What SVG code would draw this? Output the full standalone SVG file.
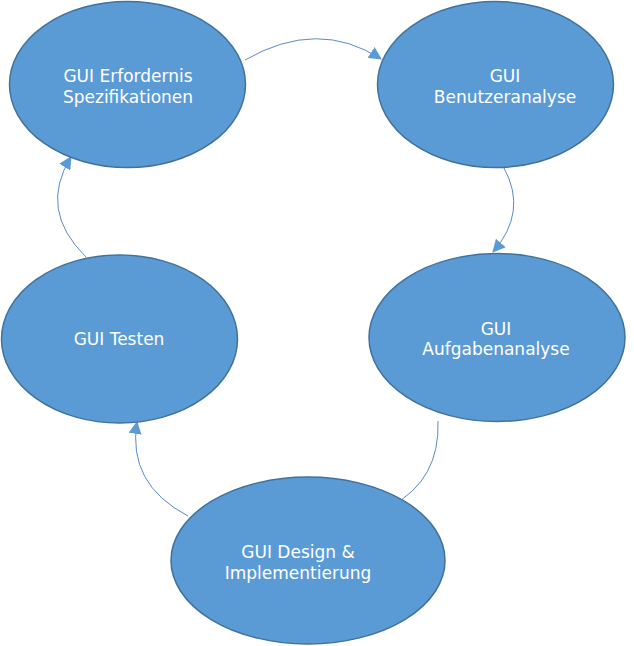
<svg xmlns="http://www.w3.org/2000/svg" width="634" height="646" viewBox="0 0 634 646">
<style>
.node ellipse{fill:#5B9BD5;stroke:#41719C;stroke-width:1.5}
.node text{fill:#FFFFFF;font-family:"DejaVu Sans",Verdana,sans-serif;font-size:17px;text-anchor:middle}
.conn path{fill:none;stroke:#5A8AC6;stroke-width:1}
</style>
<defs>
<marker id="arr" markerUnits="userSpaceOnUse" markerWidth="13" markerHeight="13" viewBox="0 0 12 12" refX="11" refY="6" orient="auto">
<path d="M0,0 L12,6 L0,12 Z" fill="#5B9BD5"/>
</marker>
</defs>
<g id="connectors" class="conn">
<path d="M245,60 Q318,18 381,59" marker-end="url(#arr)"/>
<path d="M504,168 Q528,212 493,252" marker-end="url(#arr)"/>
<path d="M438,421 Q440,480 391,506"/>
<path d="M188,516 Q127,484 137,422" marker-end="url(#arr)"/>
<path d="M86,257 Q38,210 71,157" marker-end="url(#arr)"/>
</g>
<g id="n1" class="node">
<ellipse cx="127.5" cy="84.5" rx="118" ry="83"/>
<text x="128" y="82">GUI Erfordernis</text>
<text x="128" y="103">Spezifikationen</text>
</g>
<g id="n2" class="node">
<ellipse cx="495.5" cy="84.5" rx="118" ry="83"/>
<text x="505" y="82">GUI</text>
<text x="505" y="103">Benutzeranalyse</text>
</g>
<g id="n3" class="node">
<ellipse cx="497" cy="337.5" rx="128" ry="84"/>
<text x="496" y="335">GUI</text>
<text x="496" y="355">Aufgabenanalyse</text>
</g>
<g id="n4" class="node">
<ellipse cx="119.5" cy="339" rx="118" ry="84"/>
<text x="119" y="345">GUI Testen</text>
</g>
<g id="n5" class="node">
<ellipse cx="308" cy="560.5" rx="137" ry="83.5"/>
<text x="298" y="558">GUI Design &amp;</text>
<text x="298" y="579">Implementierung</text>
</g>
</svg>
